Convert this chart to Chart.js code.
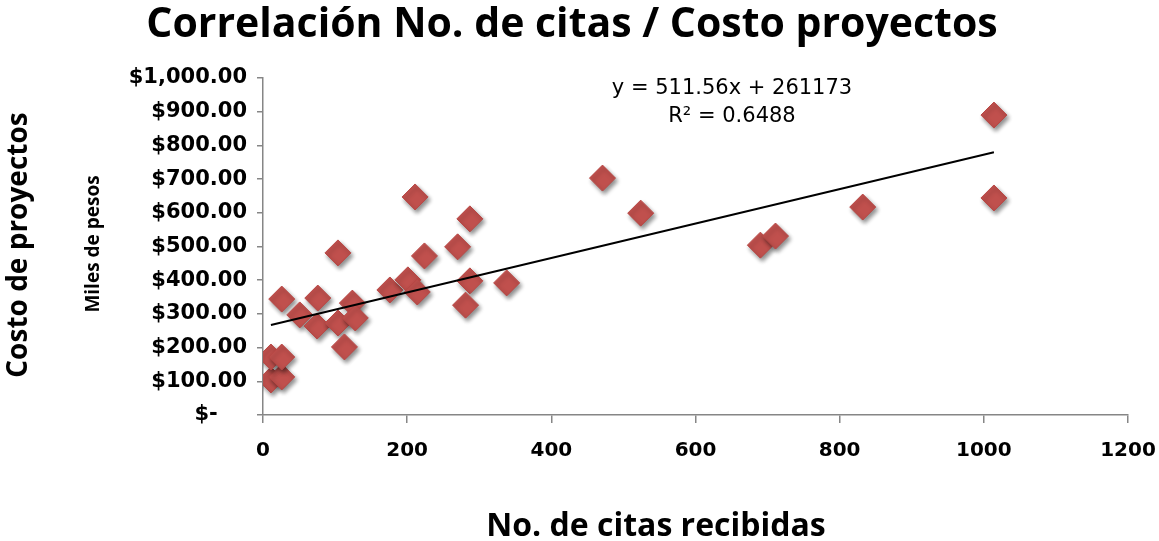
<!DOCTYPE html>
<html>
<head>
<meta charset="utf-8">
<script src="https://cdn.jsdelivr.net/npm/chart.js@4.4.0/dist/chart.umd.min.js"></script>
<style>
  html, body { margin: 0; padding: 0; background: #fff; }
  #wrap { width: 1159px; height: 541px; }
</style>
</head>
<body>
<div id="wrap"><canvas id="chart" width="1159" height="541"></canvas></div>
<script>
// No. de citas recibidas (x) y costo del proyecto en miles de pesos (y)
var citas = [11, 26, 11, 26, 26, 51, 75, 76, 104, 104, 124, 128, 113, 176, 201, 214,
             224, 270, 287, 281, 338, 287, 211, 471, 524, 690, 711, 832, 1014, 1014];
var costo = [104, 113, 172, 172, 344, 297, 264, 347, 481, 273, 332, 288, 202, 371, 401, 365,
             472, 499, 398, 326, 392, 582, 647, 703, 599, 504, 531, 617, 890, 644];

// linea de tendencia (en pesos)
var pendiente = 511.56;
var intercepto = 261173;
var r2 = 0.6488;

var ejeXMax = 1200, ejeXPaso = 200;
var ejeYMax = 1000, ejeYPaso = 100;

var tituloGrafica = 'Correlación No. de citas / Costo proyectos';
var tituloX = 'No. de citas recibidas';
var tituloY = 'Costo de proyectos';
var subtituloY = 'Miles de pesos';

var puntos = [];
for (var i = 0; i < citas.length; i++) {
	puntos.push({ x: citas[i], y: costo[i] });
}
var xMin = Math.min.apply(null, citas);
var xMax = Math.max.apply(null, citas);
var tendencia = [
	{ x: xMin, y: (pendiente * xMin + intercepto) / 1000 },
	{ x: xMax, y: (pendiente * xMax + intercepto) / 1000 }
];

function moneda(v) {
	if (v === 0) return '$-\u2007\u2007';
	return '$' + v.toLocaleString('en-US', { minimumFractionDigits: 2, maximumFractionDigits: 2 });
}

var sombra = {
	id: 'sombra',
	beforeDatasetDraw: function(chart, args) {
		if (args.meta.type !== 'scatter') return;
		var ctx = chart.ctx;
		ctx.save();
		ctx.shadowColor = 'rgba(0,0,0,0.45)';
		ctx.shadowBlur = 4;
		ctx.shadowOffsetX = 2;
		ctx.shadowOffsetY = 3;
	},
	afterDatasetDraw: function(chart, args) {
		if (args.meta.type !== 'scatter') return;
		chart.ctx.restore();
	}
};

var rotulos = {
	id: 'rotulos',
	afterDraw: function(chart) {
		var ctx = chart.ctx;
		ctx.save();
		ctx.fillStyle = '#000';
		ctx.textAlign = 'center';
		ctx.textBaseline = 'alphabetic';

		ctx.font = 'bold 41px "Open Sans"';
		ctx.fillText(tituloGrafica, 572, 37);

		ctx.font = 'bold 32px "Open Sans"';
		ctx.fillText(tituloX, 656, 536);

		ctx.save();
		ctx.translate(27, 245);
		ctx.rotate(-Math.PI / 2);
		ctx.font = 'bold 28px "Open Sans"';
		ctx.fillText(tituloY, 0, 0);
		ctx.restore();

		ctx.save();
		ctx.translate(99, 244);
		ctx.rotate(-Math.PI / 2);
		ctx.font = 'bold 19px "Open Sans"';
		ctx.fillText(subtituloY, 0, 0);
		ctx.restore();

		ctx.font = '21px "DejaVu Sans"';
		ctx.fillText('y = ' + pendiente.toFixed(2) + 'x + ' + intercepto, 732, 94);
		ctx.fillText('R\u00b2 = ' + r2.toFixed(4), 732, 122);
		ctx.restore();
	}
};

var ctx = document.getElementById('chart').getContext('2d');
var grafica = new Chart(ctx, {
	type: 'scatter',
	data: {
		datasets: [
			{
				type: 'line',
				label: 'Tendencia',
				data: tendencia,
				borderColor: '#000',
				borderWidth: 2,
				pointRadius: 0,
				fill: false,
				order: 1
			},
			{
				type: 'scatter',
				label: 'Proyectos',
				data: puntos,
				pointStyle: 'rectRot',
				pointRadius: 13,
				backgroundColor: '#C0504D',
				borderColor: '#B84744',
				borderWidth: 1,
				order: 2
			}
		]
	},
	options: {
		responsive: false,
		animation: false,
		layout: { padding: { top: 78, right: 31, left: 0, bottom: 0 } },
		plugins: {
			legend: { display: false },
			tooltip: { enabled: false },
			title: { display: false }
		},
		scales: {
			x: {
				type: 'linear',
				min: 0,
				max: ejeXMax,
				afterFit: function(scale) {
					scale.height = 126;
					scale.paddingLeft = 0;
					scale.paddingRight = 0;
				},
				ticks: {
					stepSize: ejeXPaso,
					padding: 16,
					color: '#000',
					callback: function(v) { return String(v); },
					font: { family: 'DejaVu Sans', weight: 'bold', size: 20 }
				},
				grid: { drawOnChartArea: false, drawTicks: true, tickLength: 8, color: '#868686', lineWidth: 1.5 },
				border: { color: '#868686', width: 1.5 }
			},
			y: {
				type: 'linear',
				min: 0,
				max: ejeYMax,
				afterFit: function(scale) {
					scale.width = 263;
					scale.paddingTop = 0;
					scale.paddingBottom = 0;
				},
				ticks: {
					stepSize: ejeYPaso,
					padding: 10,
					color: '#000',
					callback: function(v) { return moneda(v); },
					font: { family: 'DejaVu Sans', weight: 'bold', size: 21 }
				},
				grid: { drawOnChartArea: false, drawTicks: true, tickLength: 6, color: '#868686', lineWidth: 1.5 },
				border: { color: '#868686', width: 1.5 }
			}
		}
	},
	plugins: [sombra, rotulos]
});
</script>
</body>
</html>
